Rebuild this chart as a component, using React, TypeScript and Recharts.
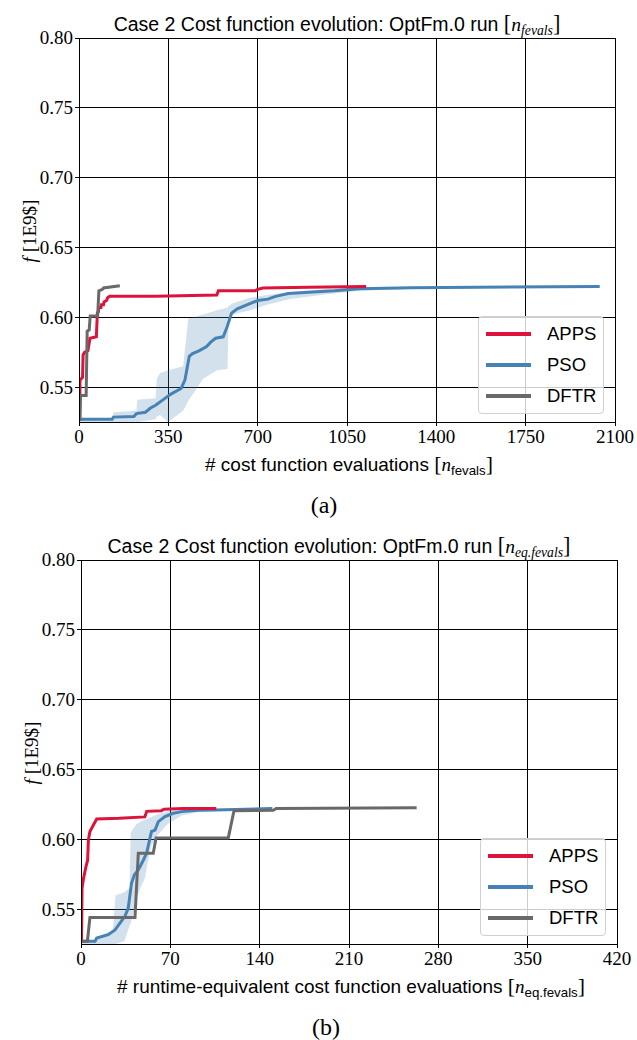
import React from 'react';
import { ComposedChart, Line, Area, XAxis, YAxis, CartesianGrid } from 'recharts';

const SANS = '"Liberation Sans", Arial, sans-serif';
const SERIF = '"Liberation Serif", "DejaVu Serif", serif';

const C_APPS = '#DC143C';
const C_PSO = '#4682B4';
const C_DFTR = '#696969';
const C_BAND = '#4682B4';

const yTicks = [0.55, 0.6, 0.65, 0.7, 0.75, 0.8];
const xTicksA = [0, 350, 700, 1050, 1400, 1750, 2100];
const xTicksB = [0, 70, 140, 210, 280, 350, 420];
const legendNames = ['APPS', 'PSO', 'DFTR'];

// ---- Panel (a): cost function evaluations ----
const appsA: number[][] = [
  [0, 0.527], [2, 0.527], [4, 0.555], [14, 0.557], [16, 0.573], [22, 0.575], [35, 0.576],
  [43, 0.585], [68, 0.586], [72, 0.603], [76, 0.604], [78, 0.607], [86, 0.607], [88, 0.609],
  [96, 0.609], [98, 0.611], [108, 0.612], [112, 0.614], [120, 0.615], [300, 0.615],
  [540, 0.616], [546, 0.619], [690, 0.619], [700, 0.620], [720, 0.621], [900, 0.6215], [1125, 0.622],
];
const psoA: number[][] = [
  [0, 0.527], [130, 0.527], [135, 0.5285], [215, 0.529], [225, 0.531], [260, 0.532], [280, 0.535],
  [300, 0.537], [330, 0.541], [360, 0.545], [400, 0.549], [415, 0.555], [432, 0.572], [445, 0.574],
  [470, 0.576], [500, 0.579], [515, 0.582], [535, 0.585], [565, 0.586], [580, 0.593], [598, 0.603],
  [620, 0.606], [660, 0.609], [700, 0.612], [740, 0.613], [770, 0.615], [820, 0.617], [900, 0.618],
  [1000, 0.619], [1100, 0.6205], [1300, 0.6212], [2040, 0.622],
];
const psoBandA: number[][] = [
  [0, 0.525, 0.527], [130, 0.525, 0.527], [135, 0.525, 0.532], [225, 0.525, 0.533], [228, 0.525, 0.541],
  [300, 0.527, 0.542], [305, 0.529, 0.556], [317, 0.530, 0.560], [349, 0.525, 0.562], [408, 0.533, 0.565],
  [428, 0.540, 0.599], [486, 0.556, 0.602], [541, 0.562, 0.605], [582, 0.563, 0.607], [586, 0.598, 0.608],
  [603, 0.602, 0.610], [670, 0.605, 0.614], [737, 0.609, 0.616], [827, 0.613, 0.618], [950, 0.616, 0.620],
  [1100, 0.619, 0.621], [1400, 0.6208, 0.6215], [2040, 0.6218, 0.6222],
];
const dftrA: number[][] = [
  [0, 0.527], [4, 0.527], [6, 0.544], [28, 0.544], [32, 0.590], [40, 0.591], [44, 0.601],
  [73, 0.601], [78, 0.619], [92, 0.620], [96, 0.621], [160, 0.6225],
];

// ---- Panel (b): runtime-equivalent evaluations ----
const appsB: number[][] = [
  [0, 0.527], [0.4, 0.527], [0.8, 0.565], [2, 0.572], [3.8, 0.580], [5.2, 0.585], [5.8, 0.5995],
  [7, 0.6055], [9.6, 0.610], [12.3, 0.6145], [30, 0.615], [50, 0.616], [51.5, 0.620], [63, 0.6205],
  [65, 0.6215], [80, 0.622], [106, 0.622],
];
const psoB: number[][] = [
  [0, 0.527], [11, 0.527], [12.3, 0.5293], [18.8, 0.531], [21.4, 0.5317], [26.6, 0.535], [30.5, 0.540],
  [34.5, 0.545], [37, 0.5507], [39.6, 0.5686], [41.8, 0.5745], [44.9, 0.578], [48.8, 0.585],
  [51.4, 0.590], [54, 0.6007], [55.3, 0.6057], [58, 0.6066], [60.6, 0.6126], [65.8, 0.6163],
  [72.3, 0.6186], [78.9, 0.6198], [91.7, 0.6207], [105, 0.621], [150, 0.622],
];
const psoBandB: number[][] = [
  [0, 0.525, 0.527], [11, 0.525, 0.527], [12, 0.525, 0.530], [20, 0.525, 0.533], [25, 0.525, 0.535],
  [27, 0.525, 0.560], [34, 0.527, 0.562], [38, 0.538, 0.565], [39, 0.540, 0.605], [43.6, 0.558, 0.611],
  [47.5, 0.567, 0.613], [50, 0.572, 0.614], [52.7, 0.585, 0.615], [55, 0.595, 0.616], [60, 0.603, 0.618],
  [68, 0.611, 0.620], [79, 0.617, 0.6208], [92, 0.6195, 0.6212], [110, 0.6205, 0.6218], [150, 0.6215, 0.6222],
];
const dftrB: number[][] = [
  [1, 0.527], [5, 0.527], [7, 0.544], [42.3, 0.544], [44.9, 0.590], [56.6, 0.590], [58.8, 0.601],
  [115.4, 0.601], [119.9, 0.6205], [150.7, 0.6207], [152.8, 0.622], [263, 0.6225],
];

const toPts = (a: number[][]) => a.map(([x, y]) => ({ x, y }));
const toBand = (a: number[][]) => a.map(([x, lo, hi]) => ({ x, range: [lo, hi] }));

const abs = (s: React.CSSProperties): React.CSSProperties => ({ position: 'absolute', ...s });

const TICK_FS = 19;
const tickTextStyle: React.CSSProperties = { fontFamily: SERIF, fontSize: TICK_FS, fill: '#000' };

function XTick(props: any) {
  const { x, y, payload } = props;
  return (
    <text x={x} y={y} dy={TICK_FS * 0.72} textAnchor="middle" style={tickTextStyle}>
      {payload.value}
    </text>
  );
}

function YTick(props: any) {
  const { x, y, payload } = props;
  return (
    <text x={x} y={y} dy={TICK_FS * 0.34} textAnchor="end" style={tickTextStyle}>
      {Number(payload.value).toFixed(2)}
    </text>
  );
}

function Legend() {
  const colors = [C_APPS, C_PSO, C_DFTR];
  return (
    <div style={abs({ left: 478, top: 316, width: 126, height: 98, border: '1px solid #d0d0d0', borderRadius: 4, background: 'rgba(255,255,255,0.8)', boxSizing: 'border-box' })}>
      {legendNames.map((n, i) => (
        <React.Fragment key={n}>
          <div style={abs({ left: 7, top: 15 + i * 31, width: 45, height: 3.5, background: colors[i] })} />
          <div style={abs({ left: 68, top: 16.5 + i * 31, transform: 'translateY(-50%)', fontFamily: SANS, fontSize: 18.5, lineHeight: '20px', color: '#000' })}>{n}</div>
        </React.Fragment>
      ))}
    </div>
  );
}

type PanelProps = {
  top: number; left: number; xMax: number; xTicks: number[];
  apps: number[][]; pso: number[][]; band: number[][]; dftr: number[][];
  title: React.ReactNode; xlabel: React.ReactNode; caption: string;
};

function Panel(p: PanelProps) {
  return (
    <div style={abs({ left: p.left, top: p.top, width: 637, height: 516 })}>
      <ComposedChart width={637} height={470} margin={{ top: 38, right: 22, bottom: 16, left: 19 }}>
        <CartesianGrid stroke="#000" strokeWidth={1} shapeRendering="crispEdges" />
        <XAxis type="number" dataKey="x" domain={[0, p.xMax]} ticks={p.xTicks} allowDataOverflow
          height={32} tick={<XTick />} tickLine={{ stroke: '#000', shapeRendering: 'crispEdges' }} axisLine={{ stroke: '#000', shapeRendering: 'crispEdges' }} tickSize={4} tickMargin={3} interval={0} />
        <YAxis type="number" domain={[0.525, 0.8]} ticks={yTicks} allowDataOverflow width={60}
          tick={<YTick />} tickLine={{ stroke: '#000', shapeRendering: 'crispEdges' }} axisLine={{ stroke: '#000', shapeRendering: 'crispEdges' }} tickSize={4} tickMargin={2} interval={0} />
        <Area data={toBand(p.band)} dataKey="range" type="linear" stroke="none" fill={C_BAND} fillOpacity={0.24} isAnimationActive={false} />
        <Line data={toPts(p.pso)} dataKey="y" type="linear" stroke={C_PSO} strokeWidth={3} dot={false} isAnimationActive={false} />
        <Line data={toPts(p.apps)} dataKey="y" type="linear" stroke={C_APPS} strokeWidth={3} dot={false} isAnimationActive={false} />
        <Line data={toPts(p.dftr)} dataKey="y" type="linear" stroke={C_DFTR} strokeWidth={3} dot={false} isAnimationActive={false} />
      </ComposedChart>
      <div style={abs({ left: 337, top: 25, transform: 'translate(-50%,-50%)', whiteSpace: 'nowrap', fontFamily: SANS, fontSize: 19.5 })}>{p.title}</div>
      <div style={abs({ left: 349, top: 465, transform: 'translate(-50%,-50%)', whiteSpace: 'nowrap', fontFamily: SANS, fontSize: 19 })}>{p.xlabel}</div>
      <div style={abs({ left: 30, top: 231, transform: 'translate(-50%,-50%) rotate(-90deg)', whiteSpace: 'nowrap', fontFamily: SERIF, fontSize: 19 })}>
        <i>f</i> [1E9$]
      </div>
      <div style={abs({ left: 324, top: 505, transform: 'translate(-50%,-50%)', whiteSpace: 'nowrap', fontFamily: SERIF, fontSize: 24, lineHeight: '24px' })}>{p.caption}</div>
      <Legend />
    </div>
  );
}

const br = (s: string) => <span style={{ fontFamily: SERIF, fontSize: '1.15em' }}>{s}</span>;

export default function App() {
  const titleA = <>Case 2 Cost function evolution: OptFm.0 run {br('[')}<i style={{ fontFamily: SERIF }}>n<sub style={{ fontSize: '0.7em' }}>fevals</sub></i>{br(']')}</>;
  const titleB = <>Case 2 Cost function evolution: OptFm.0 run {br('[')}<i style={{ fontFamily: SERIF }}>n<sub style={{ fontSize: '0.7em' }}>eq.fevals</sub></i>{br(']')}</>;
  const xlabA = <># cost function evaluations {br('[')}<i style={{ fontFamily: SERIF }}>n</i><sub style={{ fontSize: '0.7em' }}>fevals</sub>{br(']')}</>;
  const xlabB = <># runtime-equivalent cost function evaluations {br('[')}<i style={{ fontFamily: SERIF }}>n</i><sub style={{ fontSize: '0.7em' }}>eq.fevals</sub>{br(']')}</>;
  return (
    <div style={abs({ left: 0, top: 0, width: 637, height: 1040, background: '#fff', overflow: 'hidden' })}>
      <Panel top={0} left={0} xMax={2100} xTicks={xTicksA} apps={appsA} pso={psoA} band={psoBandA} dftr={dftrA} title={titleA} xlabel={xlabA} caption="(a)" />
      <Panel top={522} left={2} xMax={420} xTicks={xTicksB} apps={appsB} pso={psoB} band={psoBandB} dftr={dftrB} title={titleB} xlabel={xlabB} caption="(b)" />
    </div>
  );
}
